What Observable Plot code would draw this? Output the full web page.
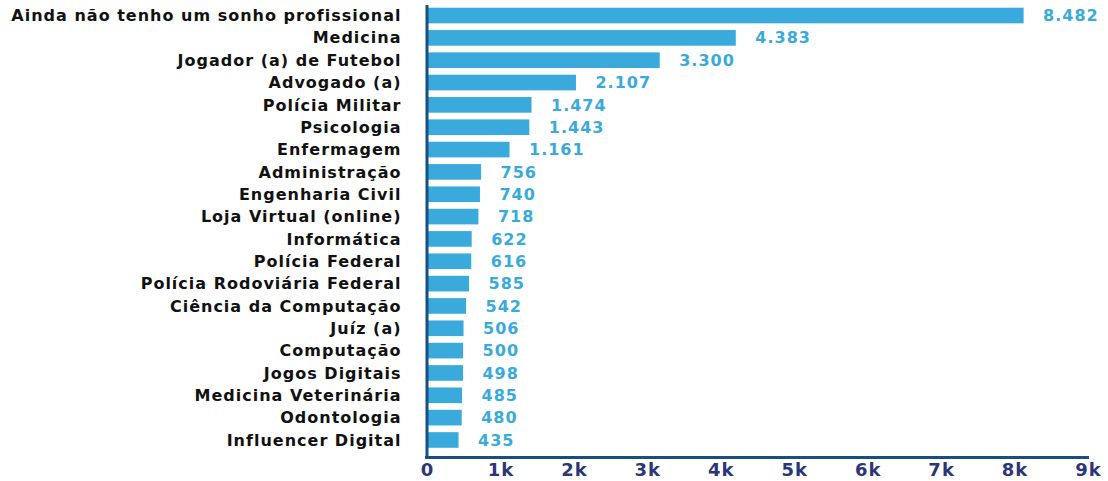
<!DOCTYPE html>
<html>
<head>
<meta charset="utf-8">
<script src="https://cdn.jsdelivr.net/npm/d3@7"></script>
<script src="https://cdn.jsdelivr.net/npm/@observablehq/plot@0.6"></script>
<style>
  html, body { margin: 0; padding: 0; background: #ffffff; }
  #chart svg { display: block; }
</style>
</head>
<body>
<div id="chart"></div>
<script>
const categories = [
  "Ainda não tenho um sonho profissional",
  "Medicina",
  "Jogador (a) de Futebol",
  "Advogado (a)",
  "Polícia Militar",
  "Psicologia",
  "Enfermagem",
  "Administração",
  "Engenharia Civil",
  "Loja Virtual (online)",
  "Informática",
  "Polícia Federal",
  "Polícia Rodoviária Federal",
  "Ciência da Computação",
  "Juíz (a)",
  "Computação",
  "Jogos Digitais",
  "Medicina Veterinária",
  "Odontologia",
  "Influencer Digital"
];
const values = [8482, 4383, 3300, 2107, 1474, 1443, 1161, 756, 740, 718, 622, 616, 585, 542, 506, 500, 498, 485, 480, 435];
const tickValues = [0, 1000, 2000, 3000, 4000, 5000, 6000, 7000, 8000, 9000];
const tickLabels = ["0", "1k", "2k", "3k", "4k", "5k", "6k", "7k", "8k", "9k"];

const data = categories.map((name, i) => ({name, value: values[i]}));
const ptBR = d3.formatLocale({decimal: ",", thousands: ".", grouping: [3], currency: ["R$", ""]});
const fmt = ptBR.format(",d");

const BAR = "#3aa9dc";
const AXIS = "#17507e";
const NAVY = "#2b3679";
const FONT = "'DejaVu Sans', sans-serif";

const bars = Plot.plot({
  width: 1108,
  height: 456,
  marginTop: 1,
  marginBottom: 1.5,
  marginLeft: 428,
  marginRight: 48,
  style: {fontFamily: FONT, fontSize: "16px", fontWeight: "bold", letterSpacing: "1px", color: "#111111", background: "#ffffff"},
  x: {domain: [0, 9000], axis: null},
  y: {domain: categories, label: null, tickSize: 0, tickPadding: 27, padding: 0.3, round: false},
  marks: [
    Plot.barX(data, {x: "value", y: "name", fill: BAR}),
    Plot.text(data, {x: "value", y: "name", text: d => fmt(d.value), dx: 19, textAnchor: "start", fill: BAR, fontSize: 16, fontWeight: "bold"}),
    Plot.ruleX([0], {stroke: AXIS, strokeWidth: 3, dx: -1.5, insetTop: 4, insetBottom: -4})
  ]
});

const axis = Plot.plot({
  width: 1108,
  height: 25,
  marginTop: 1,
  marginBottom: 24,
  marginLeft: 427,
  marginRight: 20,
  style: {fontFamily: FONT, fontSize: "18px", fontWeight: "bold", letterSpacing: "1px", color: NAVY, background: "#ffffff", overflow: "visible"},
  x: {domain: [0, 9000], ticks: tickValues, tickFormat: (d, i) => tickLabels[tickValues.indexOf(d)], tickSize: 0, tickPadding: 6, label: null},
  y: {domain: [0, 1], axis: null},
  marks: [
    Plot.ruleY([0], {stroke: AXIS, strokeWidth: 3, insetLeft: -2, insetRight: -1})
  ]
});

document.getElementById("chart").append(bars, axis);
</script>
</body>
</html>
